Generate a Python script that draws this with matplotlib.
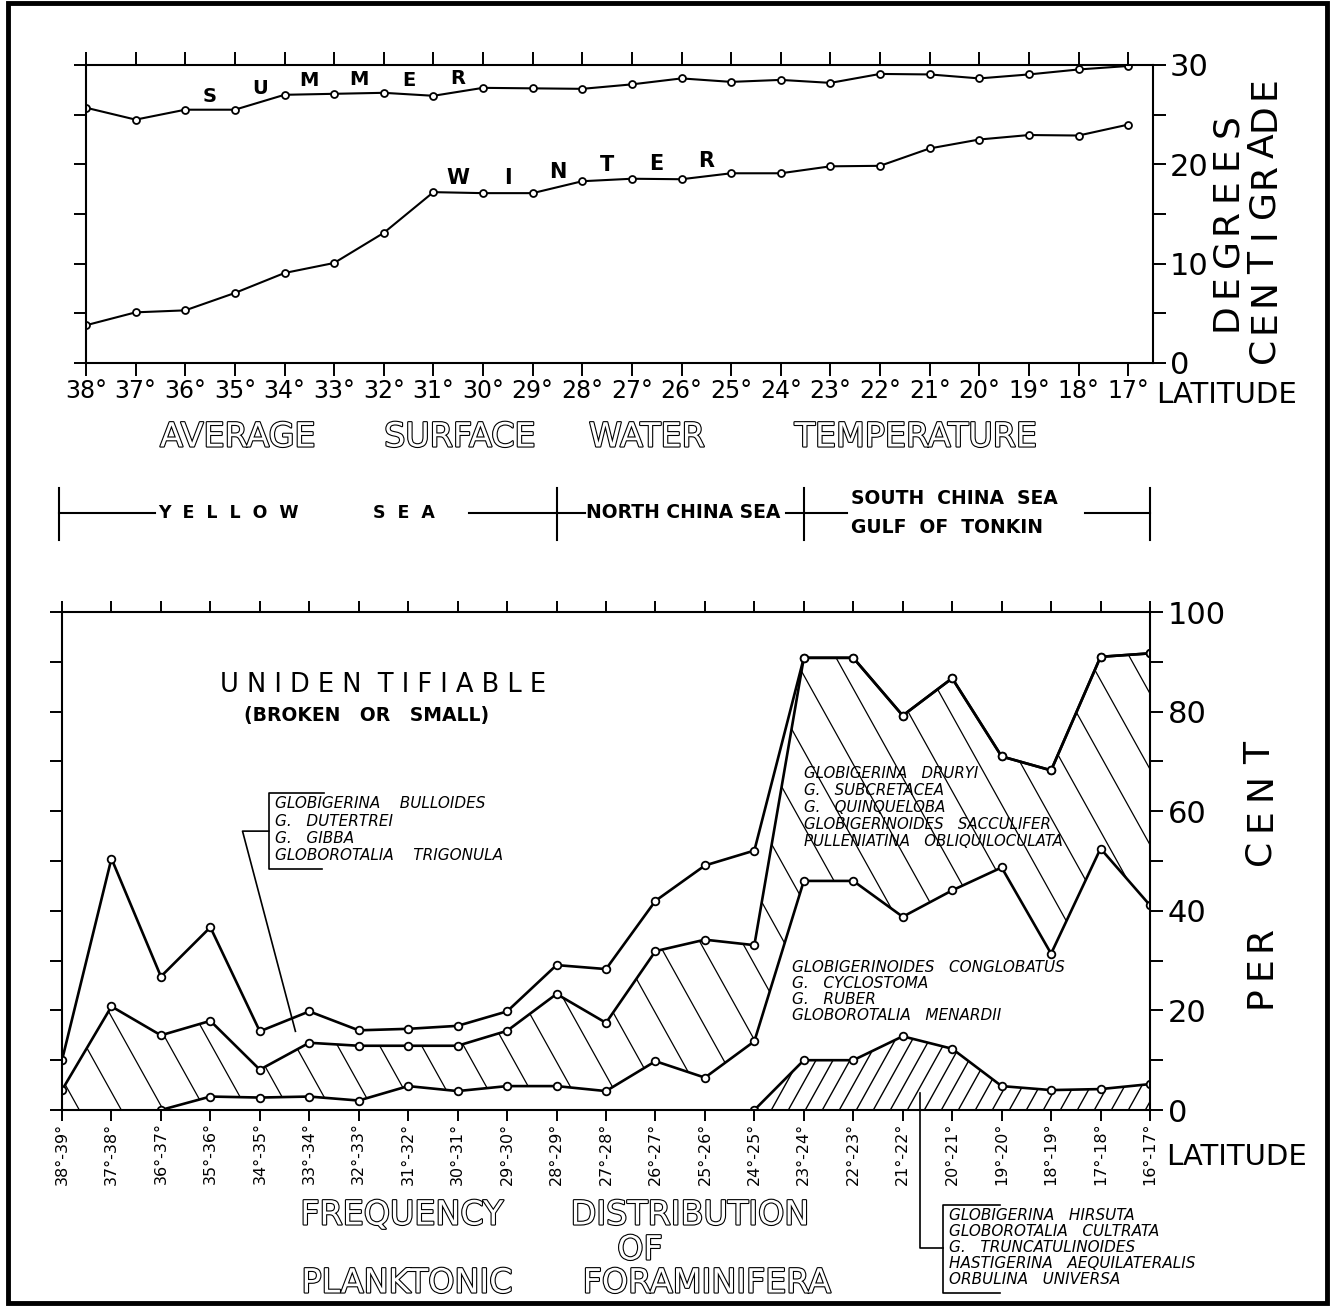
import numpy as np
import matplotlib.pyplot as plt
import matplotlib.patheffects as pe
from matplotlib.patches import Polygon, Rectangle
from matplotlib.lines import Line2D

# 1: temperature data (degrees C)
latitude = [38, 37, 36, 35, 34, 33, 32, 31, 30, 29, 28, 27, 26, 25, 24, 23, 22, 21, 20, 19, 18, 17]
summer = [25.7, 24.5, 25.5, 25.5, 27.0, 27.1, 27.2, 26.9, 27.7, 27.65, 27.6, 28.05,
          28.65, 28.3, 28.5, 28.2, 29.1, 29.05, 28.65, 29.05, 29.55, 29.9]
winter = [3.8, 5.1, 5.3, 7.05, 9.06, 10.07, 13.1, 17.2, 17.1, 17.1, 18.3, 18.55,
          18.5, 19.1, 19.1, 19.8, 19.85, 21.6, 22.5, 22.95, 22.9, 24.0]

# 2: foraminifera frequency (cumulative per cent boundaries) by latitude band
bands = ["38°-39°", "37°-38°", "36°-37°", "35°-36°", "34°-35°", "33°-34°", "32°-33°",
         "31°-32°", "30°-31°", "29°-30°", "28°-29°", "27°-28°", "26°-27°", "25°-26°",
         "24°-25°", "23°-24°", "22°-23°", "21°-22°", "20°-21°", "19°-20°", "18°-19°",
         "17°-18°", "16°-17°"]
unident_base = [10.0, 50.5, 26.8, 36.7, 15.8, 19.8, 16.0, 16.3, 16.9, 19.8, 29.1, 28.3,
                42.0, 49.1, 52.1, 90.8, 90.8, 79.2, 86.7, 71.0, 68.2, 91.0, 91.7]
bulloides_base = [4.0, 20.8, 15.0, 17.9, 8.1, 13.5, 12.9, 12.9, 12.9, 15.9, 23.3, 17.5,
                  31.9, 34.2, 33.1, 90.8, 90.8, 79.2, 86.7, 71.0, 68.2, 91.0, 91.7]
druryi_base = [0.0, 0.0, 0.0, 2.7, 2.5, 2.7, 1.9, 4.8, 3.8, 4.8, 4.8, 3.8,
               9.8, 6.5, 13.8, 46.0, 46.0, 38.8, 44.1, 48.7, 31.4, 52.5, 41.1]
conglob_base = [0.0, 0.0, 0.0, 0.0, 0.0, 0.0, 0.0, 0.0, 0.0, 0.0, 0.0, 0.0,
                0.0, 0.0, 0.0, 10.0, 10.0, 14.8, 12.3, 4.8, 4.0, 4.2, 5.2]

W, H = 1332, 1306
plt.rcParams['font.family'] = 'DejaVu Sans'
fig = plt.figure(figsize=(W / 100, H / 100), dpi=100)


def fx(px):
    return px / W


def fy(py):
    return 1 - py / H


def ftext(x, y, s, **kw):
    fig.text(fx(x), fy(y), s, **kw)


def fline(xs, ys, lw=1.5):
    fig.add_artist(Line2D([fx(v) for v in xs], [fy(v) for v in ys], color='black', lw=lw))


def hollow(x, y, s, size=24):
    ftext(x, y, s, ha='center', va='center', fontsize=size, color='white',
          path_effects=[pe.withStroke(linewidth=1.6, foreground='black')])


def vletters(letters, x, y_bot, y_top, size):
    # rotated lettering, spaced evenly from bottom to top
    n = len(letters)
    step = (y_bot - y_top) / n
    for i, ch in enumerate(letters):
        ftext(x, y_bot - step * (i + 0.5), ch, rotation=90, ha='center', va='center', fontsize=size)


def hatch_band(ax, x, lo, hi, step_px, slope, lw):
    verts = np.column_stack([np.r_[x, x[::-1]], np.r_[hi, np.asarray(lo)[::-1]]])
    clip = Polygon(verts, closed=True, fc='none', ec='none', transform=ax.transData)
    ax.add_patch(clip)
    pos = ax.get_position()
    w_px, h_px = pos.width * W, pos.height * H
    k = slope * w_px / h_px
    step = step_px / w_px
    span = 1 / abs(k)
    for c in np.arange(-span - step, 1 + span + step, step):
        ln = Line2D([c, c + 1 / k], [0, 1], transform=ax.transAxes, color='black', lw=lw)
        ax.add_line(ln)
        ln.set_clip_path(clip)


# frame round the whole sheet
fig.add_artist(Rectangle((fx(8), fy(1303)), fx(1327) - fx(8), fy(3) - fy(1303),
                         transform=fig.transFigure, fill=False, lw=3.5, ec='black'))

# 3: upper panel - temperature
ax1 = fig.add_axes([fx(86), fy(363), (1153 - 86) / W, (363 - 65) / H])
mk = dict(color='black', lw=1.5, marker='o', ms=5, mfc='white', mec='black', mew=1.3)
ax1.plot(latitude, summer, **mk)
ax1.plot(latitude, winter, **mk)
ax1.set_xlim(38, 16.5)
ax1.set_ylim(0, 30)
ax1.set_xticks(latitude)
ax1.set_xticklabels([f"{v}°" for v in latitude], fontsize=17)
ax1.tick_params(axis='x', top=True, direction='out', length=9.5, width=1.4, pad=2)
ax1.set_yticks(range(0, 31, 5))
ax1.set_yticklabels(['0', '', '10', '', '20', '', '30'], fontsize=22)
ax1.tick_params(axis='y', left=True, right=True, labelleft=False, labelright=True,
                length=9, width=1.4, pad=3)
for s in ax1.spines.values():
    s.set_linewidth(1.5)

lat_up = latitude[::-1]
for ch, la in zip("SUMMER", [35.5, 34.5, 33.5, 32.5, 31.5, 30.5]):
    ax1.text(la, np.interp(la, lat_up, summer[::-1]) + 0.4, ch, ha='center', va='bottom',
             fontsize=14, fontweight='bold')
for ch, la in zip("WINTER", [30.5, 29.5, 28.5, 27.5, 26.5, 25.5]):
    ax1.text(la, np.interp(la, lat_up, winter[::-1]) + 0.5, ch, ha='center', va='bottom',
             fontsize=15, fontweight='bold')

ftext(1156, 395, "LATITUDE", ha='left', va='center', fontsize=21)
vletters("DEGREES", 1227, 333, 110, 26)
vletters("CENTIGRADE", 1264, 365, 73, 26)

for word, cx in [("AVERAGE", 238), ("SURFACE", 460), ("WATER", 647), ("TEMPERATURE", 916)]:
    hollow(cx, 437, word)

# 4: sea regions bar
fline([59, 59], [488, 540])
fline([557, 557], [488, 540])
fline([804, 804], [488, 540])
fline([1150, 1150], [488, 540])
fline([59, 155], [513, 513])
fline([469, 557], [513, 513])
fline([557, 585], [513, 513])
fline([786, 847], [513, 513])
fline([1085, 1150], [513, 513])
ftext(158, 513, "Y  E  L  L  O  W", ha='left', va='center', fontsize=12.5, fontweight='bold')
ftext(373, 513, "S  E  A", ha='left', va='center', fontsize=12.5, fontweight='bold')
ftext(586, 513, "NORTH CHINA SEA", ha='left', va='center', fontsize=13.5, fontweight='bold')
ftext(851, 499, "SOUTH  CHINA  SEA", ha='left', va='center', fontsize=13.5, fontweight='bold')
ftext(851, 527, "GULF  OF  TONKIN", ha='left', va='center', fontsize=13.5, fontweight='bold')

# 5: lower panel - frequency distribution
ax2 = fig.add_axes([fx(62), fy(1110), (1150 - 62) / W, (1110 - 612) / H])
idx = np.arange(len(bands))
zeros = np.zeros(len(bands))
hatch_band(ax2, idx, druryi_base, bulloides_base, 42, -1.8, 0.9)
hatch_band(ax2, idx[14:], zeros[14:], conglob_base[14:], 17, 1.8, 1.0)
mk2 = dict(color='black', lw=1.9, marker='o', ms=5.5, mfc='white', mec='black', mew=1.3)
ax2.plot(idx, unident_base, **mk2)
ax2.plot(idx, bulloides_base, **mk2)
ax2.plot(idx[2:], druryi_base[2:], **mk2)
ax2.plot(idx[14:], conglob_base[14:], **mk2)
ax2.set_xlim(0, 22)
ax2.set_ylim(0, 100)
ax2.set_xticks(idx)
ax2.set_xticklabels(bands, rotation=90, fontsize=11.5)
ax2.tick_params(axis='x', top=True, direction='out', length=8, width=1.4, pad=1)
ax2.set_yticks(range(0, 101, 10))
ax2.set_yticklabels(['0', '', '20', '', '40', '', '60', '', '80', '', '100'], fontsize=22)
ax2.tick_params(axis='y', left=True, right=True, labelleft=False, labelright=True,
                length=9, width=1.4, pad=4)
for s in ax2.spines.values():
    s.set_linewidth(1.5)

ax2.text(6.5, 85.3, "U N I D E N  T I F I A B L E", ha='center', va='center', fontsize=18.5)
ax2.text(6.15, 79.3, "(BROKEN   OR   SMALL)", ha='center', va='center', fontsize=13.5,
         fontweight='bold')

# bulloides group label with bracket and pointer
ax2.plot([5.29, 4.18, 4.18, 5.25], [63.6, 63.6, 48.3, 48.3], color='black', lw=1.2)
ax2.plot([4.18, 3.65, 4.72], [56.0, 56.0, 15.8], color='black', lw=1.2)
for yy, s in zip([61.6, 58.0, 54.6, 51.2],
                 ["GLOBIGERINA    BULLOIDES", "G.   DUTERTREI", "G.   GIBBA",
                  "GLOBOROTALIA    TRIGONULA"]):
    ax2.text(4.3, yy, s, ha='left', va='center', fontsize=11, style='italic')

for yy, s in zip([67.6, 64.2, 60.8, 57.4, 54.0],
                 ["GLOBIGERINA   DRURYI", "G.   SUBCRETACEA", "G.   QUINQUELOBA",
                  "GLOBIGERINOIDES   SACCULIFER", "PULLENIATINA   OBLIQUILOCULATA"]):
    ax2.text(15.0, yy, s, ha='left', va='center', fontsize=10.8, style='italic')

for yy, s in zip([28.6, 25.4, 22.2, 18.9],
                 ["GLOBIGERINOIDES   CONGLOBATUS", "G.   CYCLOSTOMA", "G.   RUBER",
                  "GLOBOROTALIA   MENARDII"]):
    ax2.text(14.77, yy, s, ha='left', va='center', fontsize=11, style='italic')

# hirsuta group label below the panel
fline([920, 920, 943], [1093, 1248, 1248], lw=1.2)
fline([1000, 943, 943, 1000], [1205, 1205, 1293, 1293], lw=1.2)
for yy, s in zip([1216, 1232, 1248, 1264, 1280],
                 ["GLOBIGERINA   HIRSUTA", "GLOBOROTALIA   CULTRATA", "G.   TRUNCATULINOIDES",
                  "HASTIGERINA   AEQUILATERALIS", "ORBULINA   UNIVERSA"]):
    ftext(949, yy, s, ha='left', va='center', fontsize=11, style='italic')

ftext(1166, 1157, "LATITUDE", ha='left', va='center', fontsize=21)
vletters("PER", 1260, 1012, 924, 26)
vletters("CENT", 1260, 869, 737, 26)

hollow(402, 1215, "FREQUENCY")
hollow(690, 1215, "DISTRIBUTION")
hollow(640, 1250, "OF")
hollow(407, 1283, "PLANKTONIC")
hollow(707, 1283, "FORAMINIFERA")

fig.savefig("out.png", dpi=100, facecolor='white')
